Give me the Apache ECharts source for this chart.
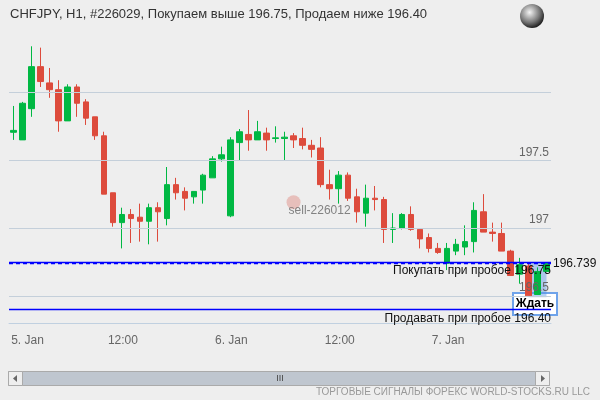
<!DOCTYPE html>
<html>
<head>
<meta charset="utf-8">
<script src="https://cdn.jsdelivr.net/npm/echarts@6/dist/echarts.min.js"></script>
<style>
  html, body { margin: 0; padding: 0; background: #eeeeee; }
  #chart { width: 600px; height: 400px; }
</style>
</head>
<body>
<div id="chart"></div>
<script>
// данные свечей H1, [open, close, low, high]
const candles = [
  [197.706, 197.72, 197.65, 197.90],
  [197.65, 197.92, 197.65, 197.93],
  [197.88, 198.19, 197.82, 198.34],
  [198.19, 198.08, 198.04, 198.33],
  [198.07, 198.02, 197.96, 198.18],
  [198.02, 197.79, 197.71, 198.09],
  [197.79, 198.04, 197.79, 198.06],
  [198.04, 197.92, 197.82, 198.06],
  [197.93, 197.81, 197.76, 197.95],
  [197.82, 197.68, 197.65, 197.82],
  [197.68, 197.25, 197.25, 197.71],
  [197.26, 197.04, 197.01, 197.26],
  [197.04, 197.10, 196.85, 197.15],
  [197.10, 197.07, 196.89, 197.14],
  [197.08, 197.05, 196.90, 197.18],
  [197.05, 197.15, 196.88, 197.18],
  [197.15, 197.12, 196.90, 197.19],
  [197.07, 197.32, 197.02, 197.45],
  [197.32, 197.26, 197.21, 197.37],
  [197.27, 197.22, 197.13, 197.30],
  [197.23, 197.27, 197.18, 197.27],
  [197.28, 197.39, 197.18, 197.40],
  [197.37, 197.51, 197.37, 197.53],
  [197.51, 197.54, 197.49, 197.60],
  [197.09, 197.65, 197.08, 197.67],
  [197.63, 197.71, 197.50, 197.73],
  [197.69, 197.65, 197.57, 197.87],
  [197.65, 197.71, 197.65, 197.79],
  [197.70, 197.65, 197.57, 197.74],
  [197.66, 197.665, 197.63, 197.75],
  [197.66, 197.67, 197.50, 197.71],
  [197.68, 197.65, 197.59, 197.70],
  [197.66, 197.61, 197.58, 197.74],
  [197.61, 197.58, 197.52, 197.65],
  [197.59, 197.32, 197.30, 197.67],
  [197.32, 197.29, 197.21, 197.43],
  [197.29, 197.39, 197.18, 197.42],
  [197.39, 197.22, 197.20, 197.41],
  [197.23, 197.12, 197.04, 197.29],
  [197.11, 197.22, 197.01, 197.32],
  [197.22, 197.21, 197.13, 197.31],
  [197.21, 196.99, 196.89, 197.23],
  [196.99, 197.00, 196.89, 197.11],
  [197.00, 197.10, 196.99, 197.11],
  [197.10, 196.99, 196.98, 197.16],
  [196.99, 196.92, 196.85, 196.99],
  [196.93, 196.85, 196.82, 196.96],
  [196.85, 196.82, 196.81, 196.89],
  [196.74, 196.85, 196.69, 196.89],
  [196.83, 196.88, 196.80, 196.92],
  [196.86, 196.90, 196.80, 197.02],
  [196.90, 197.13, 196.82, 197.19],
  [197.12, 196.97, 196.97, 197.25],
  [196.97, 196.96, 196.90, 197.04],
  [196.96, 196.83, 196.83, 197.04],
  [196.83, 196.65, 196.65, 196.84],
  [196.66, 196.73, 196.59, 196.78],
  [196.72, 196.50, 196.50, 196.74],
  [196.51, 196.68, 196.51, 196.71],
  [196.68, 196.74, 196.68, 196.74]
];
const tickIndex = [0, 12, 24, 36, 48];
const tickLabels = ['5. Jan', '12:00', '6. Jan', '12:00', '7. Jan'];
const priceLevels = [196.5, 197, 197.5, 198];
const levelLabels = ['196.5', '197', '197.5', ''];
const buyLevel = 196.75;
const sellLevel = 196.40;
const bidLevel = 196.739;
const sellSignal = [31, 197.19]; // свеча, цена

const categories = candles.map((c, i) => i);

const chart = echarts.init(document.getElementById('chart'));
const font = 'Liberation Sans';

const gridLines = priceLevels.map((v, i) => ({
  yAxis: v,
  lineStyle: {color: '#c4cfda', width: 1, type: 'solid'},
  label: {show: !!levelLabels[i], formatter: levelLabels[i], position: 'insideEndTop',
    color: '#666', fontSize: 12, fontFamily: font, distance: 2}
}));

const option = {
  backgroundColor: '#eeeeee',
  animation: false,
  title: {
    text: 'CHFJPY, H1, #226029, Покупаем выше 196.75, Продаем ниже 196.40',
    left: 5, top: 3,
    textStyle: {fontSize: 13, fontWeight: 'normal', color: '#333', fontFamily: font}
  },
  grid: {left: 9, right: 49, top: 30, bottom: 77, outerBoundsMode: 'none', containLabel: false},
  xAxis: {
    type: 'category',
    data: categories,
    axisLine: {lineStyle: {color: '#c0d0e0'}},
    axisTick: {alignWithLabel: true, length: 10, lineStyle: {color: '#c0d0e0'},
      interval: (i) => tickIndex.includes(i)},
    axisLabel: {
      interval: (i) => tickIndex.includes(i),
      formatter: (v, i) => {
        const k = tickIndex.indexOf(i);
        return k === 0 ? '{first|' + tickLabels[k] + '}' : '{n|' + tickLabels[k] + '}';
      },
      rich: {
        first: {padding: [0, 0, 0, 28], color: '#666', fontSize: 12, fontFamily: font},
        n: {padding: [0, 0, 0, 2], color: '#666', fontSize: 12, fontFamily: font}
      },
      color: '#666', fontSize: 12, fontFamily: font, margin: 12
    },
    splitLine: {show: false}
  },
  yAxis: {
    type: 'value', min: 196.3, max: 198.46,
    show: false, splitLine: {show: false}
  },
  series: [
    {
      type: 'candlestick',
      data: candles,
      barWidth: 6,
      itemStyle: {color: '#00b843', color0: '#dd4b3c', borderColor: '#00b843', borderColor0: '#dd4b3c', borderWidth: 1},
      markLine: {
        silent: true, symbol: 'none', animation: false,
        data: gridLines.concat([
          {yAxis: buyLevel, lineStyle: {color: '#0000ff', width: 1.3, type: 'solid'},
            label: {formatter: 'Покупать при пробое 196.75', position: 'insideEndBottom', color: '#111', fontSize: 12, fontFamily: font, distance: [0, 3]}},
          {yAxis: bidLevel, lineStyle: {color: '#0000ff', width: 1.3, type: [4, 3]},
            label: {formatter: '196.739', position: 'end', color: '#111', fontSize: 12, fontFamily: font, distance: 2}},
          {yAxis: sellLevel, lineStyle: {color: '#0000ff', width: 1.3, type: 'solid'},
            label: {formatter: 'Продавать при пробое 196.40', position: 'insideEndBottom', color: '#111', fontSize: 12, fontFamily: font, distance: [0, 3]}}
        ])
      },
      markArea: {
        silent: true,
        itemStyle: {color: 'rgba(90,150,230,0.45)'},
        data: [[{coord: [57, 196.75]}, {coord: [59, 196.49]}]]
      }
    },
    {
      type: 'scatter',
      data: [sellSignal],
      symbolSize: 14,
      itemStyle: {color: 'rgba(220,120,110,0.5)'},
      label: {show: true, formatter: 'sell-226012', position: [2, 9], color: '#666', fontSize: 12, fontFamily: font}
    }
  ],
  graphic: [
    {type: 'circle', shape: {cx: 532, cy: 16, r: 12},
      style: {fill: new echarts.graphic.RadialGradient(0.4, 0.35, 0.7, [
        {offset: 0, color: '#f4f4f4'}, {offset: 0.6, color: '#777'}, {offset: 1, color: '#111'}])}},
    {type: 'rect', shape: {x: 513, y: 293, width: 44, height: 22},
      style: {fill: '#fff', stroke: '#6fa3ea', lineWidth: 2}},
    {type: 'text', x: 535, y: 304, style: {text: 'Ждать', fill: '#000', font: 'bold 12px ' + font, align: 'center', verticalAlign: 'middle'}},
    // полоса прокрутки
    {type: 'rect', shape: {x: 8.5, y: 371.5, width: 541, height: 14}, style: {fill: '#bfc6cf', stroke: '#aaa', lineWidth: 1}},
    {type: 'rect', shape: {x: 8.5, y: 371.5, width: 14, height: 14}, style: {fill: '#eeeeee', stroke: '#aaa', lineWidth: 1}},
    {type: 'rect', shape: {x: 535.5, y: 371.5, width: 14, height: 14}, style: {fill: '#eeeeee', stroke: '#aaa', lineWidth: 1}},
    {type: 'polygon', shape: {points: [[17, 375], [17, 382], [13, 378.5]]}, style: {fill: '#666'}},
    {type: 'polygon', shape: {points: [[541, 375], [541, 382], [545, 378.5]]}, style: {fill: '#666'}},
    {type: 'text', x: 280, y: 378.5, style: {text: 'III', fill: '#444', font: '9px ' + font, align: 'center', verticalAlign: 'middle'}},
    {type: 'text', x: 590, y: 392, style: {text: 'ТОРГОВЫЕ СИГНАЛЫ ФОРЕКС WORLD-STOCKS.RU LLC', fill: '#999', font: '10px ' + font, align: 'right', verticalAlign: 'middle'}}
  ]
};
chart.setOption(option);
</script>
</body>
</html>
